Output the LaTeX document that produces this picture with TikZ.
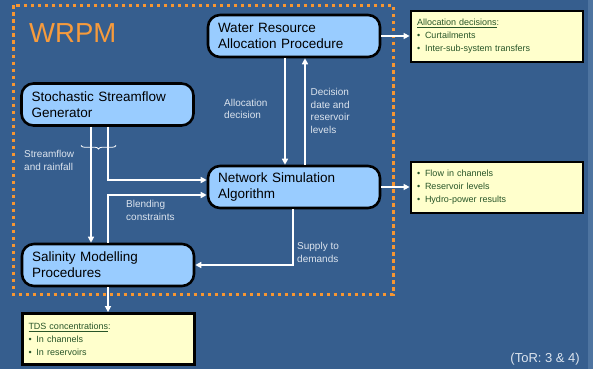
\documentclass[tikz,border=0pt]{standalone}
\usepackage{fontspec}
\setmainfont{Liberation Sans}
\usetikzlibrary{arrows.meta,decorations.pathreplacing}
\definecolor{bg}{RGB}{54,94,142}
\definecolor{bgedge}{RGB}{78,116,160}
\definecolor{boxblue}{RGB}{153,204,255}
\definecolor{boxyellow}{RGB}{255,255,204}
\definecolor{framec}{RGB}{247,150,50}
\definecolor{wrpmc}{RGB}{247,155,60}
\definecolor{greentext}{RGB}{40,85,40}
\definecolor{labelc}{RGB}{220,228,238}
\tikzset{
  bluebox/.style={draw=black, line width=2.6pt, fill=boxblue, rounded corners=12pt,
    minimum height=42pt, text width=152pt, inner xsep=10pt, inner ysep=2pt, align=left,
    font=\fontsize{13.5}{16}\selectfont},
  ybox/.style={draw=black, line width=2.8pt, fill=boxyellow, text=greentext,
    minimum height=51pt, text width=160pt, inner xsep=6pt, align=left,
    font=\fontsize{9}{13}\selectfont},
  lbl/.style={text=labelc, font=\fontsize{10}{12.5}\selectfont, align=left,
    anchor=north west, inner sep=0pt},
  arr/.style={draw=white, line width=1.8pt, -{Triangle[length=6pt,width=6pt]}},
  frame/.style={draw=framec, line width=3pt, dash pattern=on 3.5pt off 3.5pt}
}
\newcommand{\bul}{\makebox[8pt][l]{\textbullet}}
\begin{document}
\begin{tikzpicture}[x=1pt,y=-1pt]
\useasboundingbox (0,0) rectangle (593,369);
\fill[bg] (0,0) rectangle (593,369);
\fill[bgedge] (588,0) rectangle (593,369);
% frame
\draw[frame] (13,5.5) rectangle (393,294);
\node[anchor=base west, text=wrpmc, font=\fontsize{27.5}{30}\selectfont, inner sep=0pt] (wrpm) at (29,42) {WRPM};
% blue boxes
\node[bluebox] (water) at (294,36) {Water Resource\\Allocation Procedure};
\node[bluebox] (stoch) at (107.5,104.5) {Stochastic Streamflow\\Generator};
\node[bluebox] (net) at (294,187) {Network Simulation\\Algorithm};
\node[bluebox] (sal) at (108,265) {Salinity Modelling\\Procedures};
% yellow boxes
\node[ybox] (alloc) at (497,36.5) {\underline{Allocation decisions}:\\\bul Curtailments\\\bul Inter-sub-system transfers};
\node[ybox] (flow) at (497,187.5) {\bul Flow in channels\\\bul Reservoir levels\\\bul Hydro-power results};
\node[ybox] (tds) at (108.5,339) {\underline{TDS concentrations}:\\\bul In channels\\\bul In reservoirs};
% connectors
\draw[arr] (water.east) -- (water.east -| alloc.west);
\draw[arr] (net.east) -- (net.east -| flow.west);
\draw[arr] ([xshift=-9pt]water.south) -- ([xshift=-9pt]net.north);
\draw[arr] ([xshift=11pt]net.north) -- ([xshift=11pt]water.south);
\draw[arr] ([xshift=-16.5pt]stoch.south) -- ([xshift=-17pt]sal.north);
\draw[arr] ([xshift=0.5pt]stoch.south) |- ([yshift=7pt]net.west);
\draw[arr] (sal.north) |- ([yshift=-8pt]net.west);
\draw[arr] ([xshift=-1pt]net.south) |- (sal.east);
\draw[arr] (sal.south) -- (sal.south |- tds.north);
% brace
\coordinate (bra) at (81,145.5);
\coordinate (brb) at (116,145.5);
\draw[white, line width=0.8pt, decorate, decoration={brace, mirror, amplitude=3.5pt}] (bra) -- (brb);
% labels
\node[lbl] (l1) at (224,99) {Allocation\\decision};
\node[lbl] (l2) at (310.5,88.5) {Decision\\date and\\reservoir\\levels};
\node[lbl] (l3) at (24,150.5) {Streamflow\\and rainfall};
\node[lbl] (l4) at (126,200.5) {Blending\\constraints};
\node[lbl] (l5) at (297,242.5) {Supply to\\demands};
\node[anchor=base east, text=labelc, font=\fontsize{13}{15}\selectfont, inner sep=0pt] (tor) at (580,362.5) {(ToR: 3 \& 4)};
\end{tikzpicture}
\end{document}
